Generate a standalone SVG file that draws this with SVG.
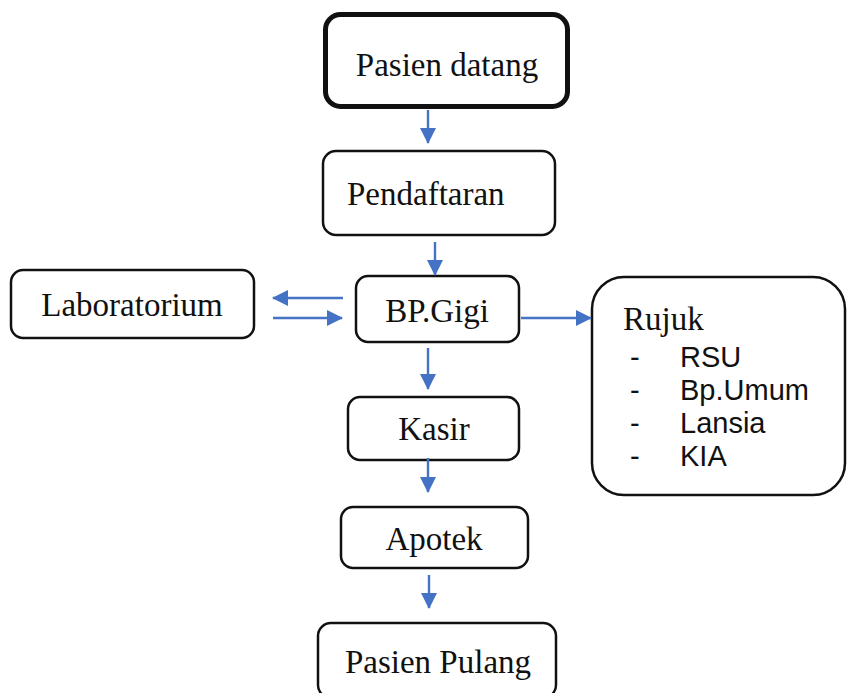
<svg xmlns="http://www.w3.org/2000/svg" width="848" height="693" viewBox="0 0 848 693">
<defs>
<style>
.box{fill:#fff;stroke:#111;stroke-width:2.5}
.thick{stroke-width:5}
.t{font-family:"Liberation Serif","Times New Roman",serif;font-size:33px;fill:#111}
.s{font-family:"Liberation Sans",Arial,sans-serif;font-size:29px;fill:#111}
.c{stroke:#4472C4;stroke-width:2.4;fill:none}
</style>
<marker id="ah" viewBox="0 0 16 16" refX="15" refY="8" markerWidth="16" markerHeight="16" markerUnits="userSpaceOnUse" orient="auto">
<path d="M0,0 L16,8 L0,16 Z" fill="#4472C4"/>
</marker>
</defs>
<rect width="848" height="693" fill="#fff"/>
<g id="pasien-datang">
<rect class="box thick" x="325.5" y="14.5" width="242" height="92" rx="15"/>
<text class="t" x="447" y="76" text-anchor="middle">Pasien datang</text>
</g>
<g id="pendaftaran">
<rect class="box" x="323" y="151" width="232" height="84" rx="13"/>
<text class="t" x="347" y="205">Pendaftaran</text>
</g>
<g id="bp-gigi">
<rect class="box" x="356" y="276" width="163" height="66" rx="12"/>
<text class="t" x="437" y="322" text-anchor="middle">BP.Gigi</text>
</g>
<g id="laboratorium">
<rect class="box" x="11" y="270" width="243" height="68" rx="12"/>
<text class="t" x="132" y="316" text-anchor="middle">Laboratorium</text>
</g>
<g id="rujuk">
<rect class="box" x="592" y="277" width="253" height="218" rx="32"/>
<text class="t" x="623" y="330">Rujuk</text>
<g class="s">
<text x="630" y="367">-</text><text x="680" y="367">RSU</text>
<text x="630" y="400">-</text><text x="680" y="400">Bp.Umum</text>
<text x="630" y="433">-</text><text x="680" y="433">Lansia</text>
<text x="630" y="466">-</text><text x="680" y="466">KIA</text>
</g>
</g>
<g id="kasir">
<rect class="box" x="348" y="397" width="171" height="63" rx="12"/>
<text class="t" x="434" y="440" text-anchor="middle">Kasir</text>
</g>
<g id="apotek">
<rect class="box" x="341" y="507" width="187" height="61" rx="12"/>
<text class="t" x="434" y="550" text-anchor="middle">Apotek</text>
</g>
<g id="pasien-pulang">
<rect class="box" x="318" y="623" width="238" height="75" rx="13"/>
<text class="t" x="438" y="673" text-anchor="middle">Pasien Pulang</text>
</g>
<g id="connectors">
<line class="c" x1="428" y1="110" x2="428" y2="143" marker-end="url(#ah)"/>
<line class="c" x1="435" y1="242" x2="435" y2="275" marker-end="url(#ah)"/>
<line class="c" x1="343" y1="298" x2="273" y2="298" marker-end="url(#ah)"/>
<line class="c" x1="273" y1="318" x2="342" y2="318" marker-end="url(#ah)"/>
<line class="c" x1="521" y1="318" x2="591" y2="318" marker-end="url(#ah)"/>
<line class="c" x1="428" y1="348" x2="428" y2="389" marker-end="url(#ah)"/>
<line class="c" x1="428" y1="458" x2="428" y2="492" marker-end="url(#ah)"/>
<line class="c" x1="429" y1="575" x2="429" y2="608" marker-end="url(#ah)"/>
</g>
</svg>
